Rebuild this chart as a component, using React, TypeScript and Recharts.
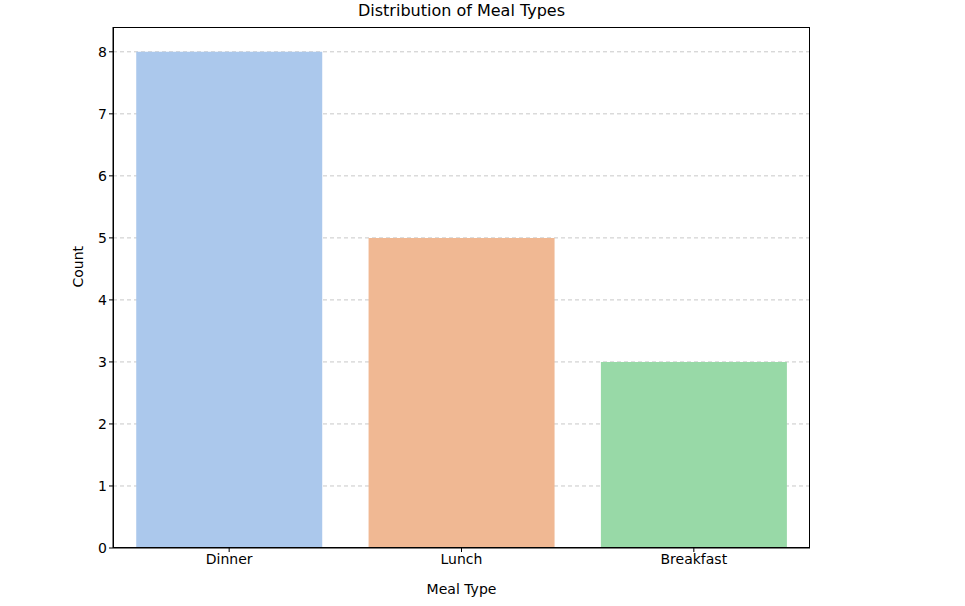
import { BarChart, Bar, XAxis, YAxis, CartesianGrid, Cell, Label } from "recharts";

const mealTypes = ["Dinner", "Lunch", "Breakfast"];
const counts = [8, 5, 3];
const barColors = ["#abc8ec", "#f0b893", "#98d9a7"];
const yTicks = [0, 1, 2, 3, 4, 5, 6, 7, 8];

const data = mealTypes.map((m, i) => ({ meal: m, count: counts[i] }));

const tickStyle = { fill: "#000", fontSize: 14, fontFamily: "DejaVu Sans" };

export default function App() {
  return (
    <div style={{ position: "absolute", left: 0, top: 0, width: 965, height: 606, background: "#fff" }}>
      <div
        style={{
          position: "absolute",
          top: 1,
          left: 113,
          width: 697,
          textAlign: "center",
          fontFamily: "DejaVu Sans",
          fontSize: 16,
        }}
      >
        Distribution of Meal Types
      </div>
      <BarChart
        width={965}
        height={606}
        data={data}
        margin={{ top: 27, right: 155, left: 0, bottom: 0 }}
        barCategoryGap="10%"
      >
        <CartesianGrid
          vertical={false}
          stroke="#c8c8c8"
          strokeDasharray="4 3"
          horizontalValues={[1, 2, 3, 4, 5, 6, 7, 8]}
        />
        <XAxis
          dataKey="meal"
          height={58}
          stroke="#000"
          tick={tickStyle}
          tickLine={{ stroke: "#000" }}
          tickSize={4}
        >
          <Label value="Meal Type" position="insideBottom" offset={12} style={tickStyle} />
        </XAxis>
        <YAxis
          domain={[0, 8.4]}
          ticks={yTicks}
          width={113}
          stroke="#000"
          tick={tickStyle}
          tickLine={{ stroke: "#000" }}
          tickSize={4}
        >
          <Label value="Count" angle={-90} position="insideLeft" offset={70} dx={8} style={tickStyle} />
        </YAxis>
        <Bar dataKey="count" isAnimationActive={false}>
          {data.map((d, i) => (
            <Cell key={d.meal} fill={barColors[i]} />
          ))}
        </Bar>
      </BarChart>
      <div
        style={{
          position: "absolute",
          left: 113,
          top: 27,
          width: 697,
          height: 521,
          boxSizing: "border-box",
          border: "1px solid #000",
          pointerEvents: "none",
        }}
      />
    </div>
  );
}
